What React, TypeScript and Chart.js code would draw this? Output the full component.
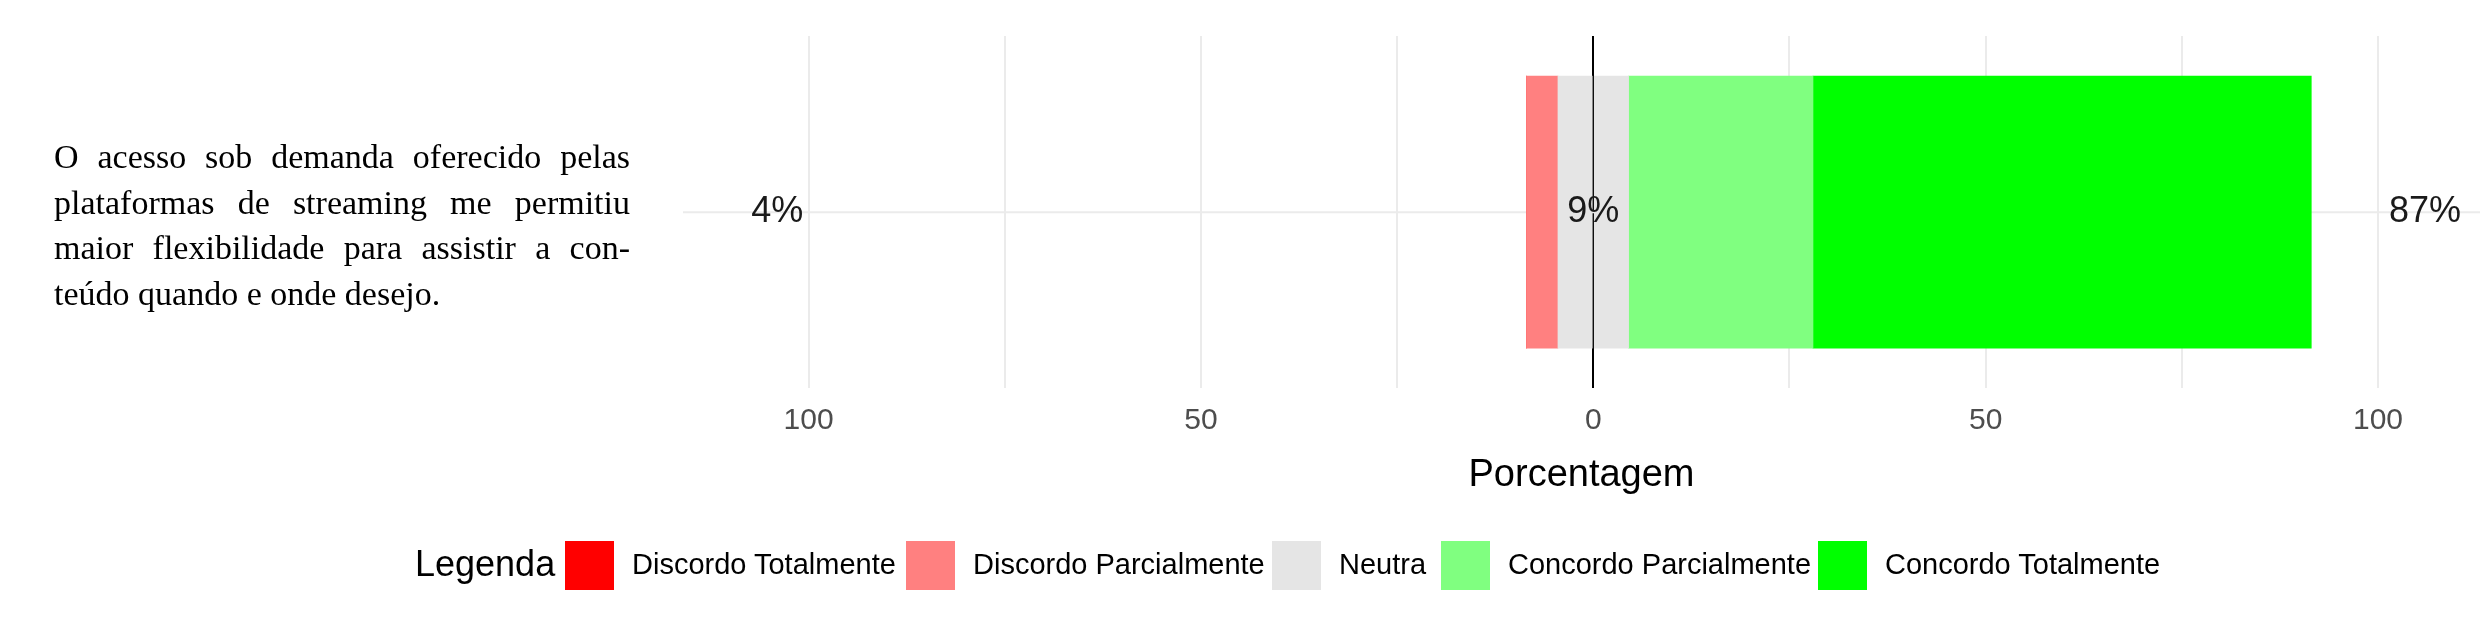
import { useEffect, useRef } from "react";
import { Chart, registerables } from "chart.js";

Chart.register(...registerables);

const categories = ["O acesso sob demanda oferecido pelas plataformas de streaming me permitiu maior flexibilidade para assistir a conteúdo quando e onde desejo."];
const questionLines = [
  "O acesso sob demanda oferecido pelas",
  "plataformas de streaming me permitiu",
  "maior flexibilidade para assistir a con-",
  "teúdo quando e onde desejo.",
];
const discordoTotalmente = [0];
const discordoParcialmente = [4];
const neutra = [9];
const concordoParcialmente = [23.5];
const concordoTotalmente = [63.5];
const tickValues = [-100, -75, -50, -25, 0, 25, 50, 75, 100];
const legendLabels = ["Discordo Totalmente", "Discordo Parcialmente", "Neutra", "Concordo Parcialmente", "Concordo Totalmente"];
const legendColors = ["#ff0000", "#ff8080", "#e5e5e5", "#80ff80", "#00ff00"];

const labelPlugin = {
  id: "likertLabels",
  beforeDatasetsDraw(chart: any) {
    const { ctx, chartArea, scales } = chart;
    const y = scales.y.getPixelForValue(0);
    ctx.save();
    ctx.strokeStyle = "#ebebeb";
    ctx.lineWidth = 2;
    ctx.beginPath();
    ctx.moveTo(chartArea.left, y);
    ctx.lineTo(chartArea.right, y);
    ctx.stroke();
    ctx.restore();
  },
  afterDatasetsDraw(chart: any) {
    const { ctx, scales } = chart;
    const y = scales.y.getPixelForValue(0);
    const low = discordoTotalmente[0] + discordoParcialmente[0];
    const high = concordoParcialmente[0] + concordoTotalmente[0];
    ctx.save();
    ctx.fillStyle = "#1a1a1a";
    ctx.font = "36px 'Liberation Sans', Arial, sans-serif";
    ctx.textAlign = "center";
    ctx.textBaseline = "middle";
    ctx.fillText(`${low}%`, scales.x.getPixelForValue(-104), y);
    ctx.fillText(`${neutra[0]}%`, scales.x.getPixelForValue(0), y);
    ctx.fillText(`${high}%`, scales.x.getPixelForValue(106), y);
    ctx.restore();
  },
};

export default function App() {
  const chartRef = useRef<HTMLCanvasElement>(null);
  const chartInstance = useRef<Chart | null>(null);

  useEffect(() => {
    if (!chartRef.current) return;
    if (chartInstance.current) chartInstance.current.destroy();

    const half = neutra.map((v) => v / 2);
    const ds = (label: string, data: number[], color: string) => ({
      label,
      data,
      backgroundColor: color,
      borderWidth: 0,
      barThickness: 272,
      stack: "s",
    });

    chartInstance.current = new Chart(chartRef.current, {
      type: "bar",
      data: {
        labels: categories,
        datasets: [
          ds("Neutra-", half.map((v) => -v), legendColors[2]),
          ds(legendLabels[1], discordoParcialmente.map((v) => -v), legendColors[1]),
          ds(legendLabels[0], discordoTotalmente.map((v) => -v), legendColors[0]),
          ds(legendLabels[2], half, legendColors[2]),
          ds(legendLabels[3], concordoParcialmente, legendColors[3]),
          ds(legendLabels[4], concordoTotalmente, legendColors[4]),
        ],
      },
      options: {
        indexAxis: "y",
        animation: false,
        responsive: false,
        layout: { padding: { left: 683, top: 36, right: 0, bottom: 130 } },
        plugins: { legend: { display: false }, tooltip: { enabled: false } },
        scales: {
          x: {
            type: "linear",
            stacked: true,
            min: -116,
            max: 113,
            afterBuildTicks: (scale: any) => {
              scale.ticks = tickValues.map((value) => ({ value }));
            },
            grid: {
              drawTicks: false,
              lineWidth: 2,
              color: (c: any) => (c.tick && c.tick.value === 0 ? "#000000" : "#ebebeb"),
            },
            border: { display: false },
            ticks: {
              padding: 14,
              color: "#4d4d4d",
              font: { size: 30, family: "'Liberation Sans', Arial, sans-serif" },
              autoSkip: false,
              maxRotation: 0,
              callback: (v: any) => (Number(v) % 50 === 0 ? String(Math.abs(Number(v))) : ""),
            },
            title: {
              display: true,
              text: "Porcentagem",
              color: "#000000",
              padding: { top: 0, bottom: 0 },
              font: { size: 38, family: "'Liberation Sans', Arial, sans-serif" },
            },
          },
          y: { stacked: true, display: false },
        },
      },
      plugins: [labelPlugin],
    } as any);

    return () => {
      if (chartInstance.current) chartInstance.current.destroy();
    };
  }, []);

  const legendX = [565, 906, 1272, 1441, 1818];

  return (
    <div style={{ position: "absolute", left: 0, top: 0, width: 2480, height: 628, background: "#fff", overflow: "hidden" }}>
      <canvas ref={chartRef} width={2480} height={628} style={{ position: "absolute", left: 0, top: 0 }} />
      <div style={{ position: "absolute", left: 54, top: 134, width: 576, fontFamily: "'Liberation Serif', 'Times New Roman', serif", fontSize: 34, lineHeight: "45.5px", color: "#000" }}>
        {questionLines.map((line, i) => (
          <div key={i} style={{ textAlign: i < questionLines.length - 1 ? "justify" : "left", textAlignLast: i < questionLines.length - 1 ? "justify" : "left", whiteSpace: "nowrap" }}>
            {line}
          </div>
        ))}
      </div>
      <div style={{ position: "absolute", left: 415, top: 543, fontFamily: "'Liberation Sans', Arial, sans-serif", fontSize: 36, color: "#000" }}>Legenda</div>
      {legendLabels.map((l, i) => (
        <div key={l}>
          <div style={{ position: "absolute", left: legendX[i], top: 541, width: 49, height: 49, background: legendColors[i] }} />
          <div style={{ position: "absolute", left: legendX[i] + 67, top: 548, fontFamily: "'Liberation Sans', Arial, sans-serif", fontSize: 29, color: "#000", whiteSpace: "nowrap" }}>{l}</div>
        </div>
      ))}
    </div>
  );
}
